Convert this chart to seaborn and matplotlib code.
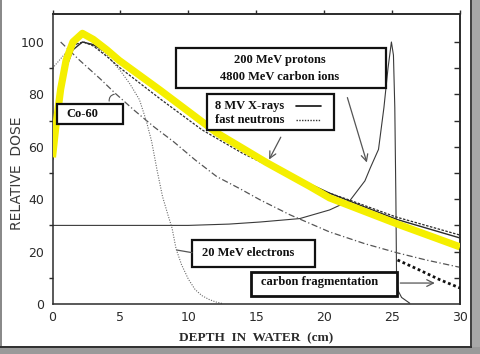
import numpy as np
import pandas as pd
import matplotlib
matplotlib.use("Agg")
import matplotlib.pyplot as plt
from matplotlib.patches import Rectangle
import seaborn as sns

# depth (cm) / relative dose
xray_depth = [0, 0.3, 0.6, 1.0, 1.5, 2.2, 3.0, 4.0, 5.0, 8.0, 11.0, 14.0, 17.0, 20.4, 22.0, 25.4, 30.0]
xray_dose = [55, 68, 80, 90, 97, 100, 99, 96, 92, 81, 70, 60, 50.5, 42.3, 39, 32.2, 25.2]

neutron_depth = [0, 0.5, 1.0, 1.6, 2.3, 3.0, 4.0, 5.0, 8.0, 11.0, 14.0, 17.0, 20.0, 21.9, 25.3, 30.0]
neutron_dose = [55, 78, 92, 99, 100, 98.5, 94.5, 90, 78, 66.5, 57.5, 50, 43, 39.6, 33.2, 26.3]

highlight_depth = [0, 0.25, 0.6, 1.0, 1.5, 2.2, 3.0, 4.0, 4.9, 7.9, 10.85, 12.1, 15.75, 18.9, 20.4, 25.4, 30.0]
highlight_dose = [56, 68, 82, 93, 100, 103.3, 101, 97, 93, 81.7, 70.2, 65.3, 54, 45, 40.5, 30.5, 21.8]

co60_depth = [0.6, 2.0, 3.5, 4.6, 6.0, 7.5, 8.9, 10.5, 12.1, 13.8, 15.3, 17.5, 20.4, 23.0, 25.4, 27.5, 30.0]
co60_dose = [100, 93, 86, 80.5, 74, 67.5, 62, 55, 48.6, 44, 39.7, 34, 27.5, 23, 19.5, 16.8, 14]

electron_depth = [0, 0.5, 1.0, 1.5, 2.2, 3.0, 4.0, 5.0, 5.7, 6.4, 6.9, 7.3, 7.7, 8.1, 8.5, 8.8,
                  9.1, 9.5, 10.0, 10.5, 11.0, 11.5, 12.0, 12.5]
electron_dose = [90, 93, 96, 98.5, 100, 99, 95, 89, 84, 78, 70, 62, 51, 41, 34, 29,
                 21, 15, 9.5, 5.5, 3.2, 1.8, 0.8, 0.2]

proton_depth = [0, 5, 10, 13, 15.3, 18.2, 20.4, 21.9, 23.0, 23.4, 24.0, 24.4, 24.7, 24.95,
                25.1, 25.2, 25.28, 25.33, 25.45, 25.7, 26.3]
proton_dose = [30, 30, 30, 30.5, 31.3, 32.6, 35.9, 39.5, 47, 52, 59, 75, 90, 100,
               95, 75, 40, 10, 5, 2.5, 0.3]

frag_depth = [25.4, 27.0, 28.5, 30.0]
frag_dose = [16.8, 13.0, 9.3, 6.1]

sns.set_theme(style="white")
plt.rcParams['font.family'] = ['DejaVu Sans']

fig = plt.figure(figsize=(4.81, 3.54), dpi=100)
fig.patch.set_facecolor("white")
ax = fig.add_axes([52.5 / 481, 1 - 304 / 354, (460 - 52.5) / 481, (304 - 14) / 354])
ax.set_facecolor("white")

ink = "#2b2b2b"
gray = "#555555"

def curve(x, y, **kw):
    df = pd.DataFrame({"depth": x, "dose": y})
    sns.lineplot(data=df, x="depth", y="dose", ax=ax, sort=False, estimator=None, **kw)

curve(proton_depth, proton_dose, color="#3a3a3a", lw=0.8, zorder=2)
curve(co60_depth, co60_dose, color=gray, lw=0.9, linestyle=(0, (5, 2, 1, 2)), zorder=2)
curve(electron_depth, electron_dose, color="#6a6a6a", lw=0.8, linestyle=(0, (1, 1.3)), zorder=2)
curve(neutron_depth, neutron_dose, color=ink, lw=0.9, linestyle=(0, (2, 1.2)), zorder=3)
curve(xray_depth, xray_dose, color=ink, lw=1.0, zorder=3)
curve(highlight_depth, highlight_dose, color="#f5ef00", lw=5.2, zorder=4, solid_capstyle="butt")
curve(frag_depth, frag_dose, color="#111111", lw=2.0, linestyle=(0, (1, 1)), zorder=3)

ax.set_xlim(0, 30)
ax.set_ylim(0, (304 - 14) / 2.62)
ax.set_xticks([0, 5, 10, 15, 20, 25, 30])
ax.set_yticks([0, 20, 40, 60, 80, 100])
ax.set_yticks([10, 30, 50, 70, 90], minor=True)
ax.tick_params(axis="x", direction="inout", length=6, width=1, colors=ink, labelsize=9, pad=2)
ax.tick_params(axis="y", direction="out", length=4, width=1, colors=ink, labelsize=9, pad=2)
ax.tick_params(axis="y", which="minor", direction="out", length=3, width=1, left=True, color=ink)
for s in ax.spines.values():
    s.set_color(ink)
    s.set_linewidth(1.1)

top = ax.secondary_xaxis("top")
top.set_xticks([0, 5, 10, 15, 20, 25, 30])
top.tick_params(direction="out", length=3, width=1, colors=ink, labeltop=False)
right = ax.secondary_yaxis("right")
right.set_yticks([10, 20, 30, 40, 50, 60, 70, 80, 90, 100])
right.tick_params(direction="in", length=4, width=1, colors=ink, labelright=False)

ax.set_xlabel("DEPTH  IN  WATER  (cm)", family="Liberation Serif", weight="bold",
              fontsize=9.5, color=ink, labelpad=6)
ax.set_ylabel("RELATIVE  DOSE", fontsize=10, color="#3a3a3a")
ax.yaxis.set_label_coords(-0.07, 0.45)

box_font = dict(family="Liberation Serif", weight="bold", fontsize=9, color="#111111", zorder=6)

def box(x0, x1, y0, y1, lw=1.6):
    ax.add_patch(Rectangle((x0, y0), x1 - x0, y1 - y0, fill=True, facecolor="white",
                           edgecolor="#111111", lw=lw, zorder=5))

# Co-60
box(0.33, 5.18, 68.7, 76.3)
ax.text(1.0, 72.6, "Co-60", ha="left", va="center", **box_font)
ax.annotate("", xy=(4.75, 80.2), xytext=(4.2, 76.4),
            arrowprops=dict(arrowstyle="-", color=gray, lw=0.8,
                            connectionstyle="arc3,rad=-0.6"), zorder=6)

# protons / carbon ions
box(9.08, 24.52, 82.4, 97.7)
ax.text(16.75, 90.0, "200 MeV protons\n4800 MeV carbon ions", ha="center", va="center",
        linespacing=1.55, **box_font)
ax.annotate("", xy=(23.2, 53), xytext=(21.65, 79.8),
            arrowprops=dict(arrowstyle="->", color=gray, lw=0.9), zorder=6)

# X-rays / neutrons
box(11.36, 20.7, 66.4, 80.2)
ax.text(12.0, 75.6, "8 MV X-rays", ha="left", va="center", **box_font)
ax.text(12.0, 70.2, "fast neutrons", ha="left", va="center", **box_font)
ax.plot([17.9, 19.74], [75.6, 75.6], color="#111111", lw=1.2, zorder=6)
ax.plot([17.9, 19.74], [70.2, 70.2], color="#333333", lw=1.0, linestyle=(0, (1, 1)), zorder=6)
ax.annotate("", xy=(15.85, 54.2), xytext=(16.9, 64.6),
            arrowprops=dict(arrowstyle="->", color=gray, lw=0.9), zorder=6)

# electrons
box(10.27, 19.3, 14.1, 24.4)
ax.text(11.0, 19.3, "20 MeV electrons", ha="left", va="center", **box_font)
ax.plot([9.15, 10.27], [20.6, 19.6], color=gray, lw=0.9, zorder=6)

# carbon fragmentation
box(14.6, 25.33, 3.05, 12.2, lw=2.0)
ax.text(15.33, 8.3, "carbon fragmentation", ha="left", va="center", **box_font)
ax.annotate("", xy=(28.35, 8.0), xytext=(25.4, 8.0),
            arrowprops=dict(arrowstyle="->", color=gray, lw=0.9), zorder=6)

# screenshot frame / drop shadow
fig.patches.append(Rectangle((0, 0), 2 / 481, 1, transform=fig.transFigure,
                             facecolor="#8a8a8a", edgecolor="none"))
fig.patches.append(Rectangle((471 / 481, 0), 10 / 481, 1, transform=fig.transFigure,
                             facecolor="#a8a8a8", edgecolor="none"))
fig.patches.append(Rectangle((470 / 481, 7 / 354), 2 / 481, 1, transform=fig.transFigure,
                             facecolor="#444444", edgecolor="none"))
fig.patches.append(Rectangle((0, 0), 1, 7 / 354, transform=fig.transFigure,
                             facecolor="#9a9a9a", edgecolor="none"))
fig.patches.append(Rectangle((0, 6 / 354), 472 / 481, 2 / 354, transform=fig.transFigure,
                             facecolor="#333333", edgecolor="none"))

fig.savefig("out.png", dpi=100, facecolor="white")
